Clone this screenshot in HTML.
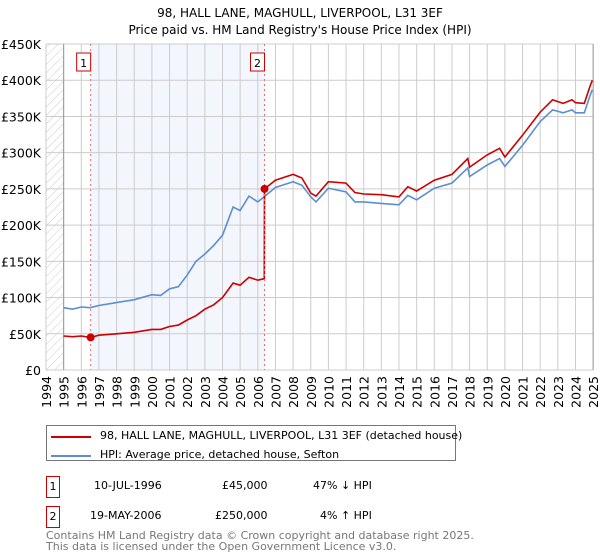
<!DOCTYPE html>
<html><head><meta charset="utf-8"><style>
body{margin:0;width:600px;height:560px;background:#fff;font-family:"DejaVu Sans","Liberation Sans",sans-serif;overflow:hidden;position:relative}
.t{position:absolute;font-size:11px;color:#000;white-space:nowrap}
</style></head><body>
<svg id="chart" width="600" height="420" style="position:absolute;left:0;top:0" font-family="DejaVu Sans, Liberation Sans, sans-serif">
<defs><pattern id="hatch" width="6" height="6" patternUnits="userSpaceOnUse" patternTransform="rotate(45)"><line x1="0" y1="0" x2="0" y2="6" stroke="#ccc" stroke-width="1"/></pattern></defs>
<text x="300" y="17" text-anchor="middle" font-size="12">98, HALL LANE, MAGHULL, LIVERPOOL, L31 3EF</text>
<text x="300" y="34" text-anchor="middle" font-size="12">Price paid vs. HM Land Registry's House Price Index (HPI)</text>
<g id="grid"></g><g id="marks"></g>
</svg>
<div class="t" style="left:46px;top:425px;width:408px;height:34px;border:1px solid #777"></div>
<div style="position:absolute;left:51px;top:436px;width:40px;height:2px;background:#cc0000"></div>
<div class="t" style="left:100px;top:429px">98, HALL LANE, MAGHULL, LIVERPOOL, L31 3EF (detached house)</div>
<div style="position:absolute;left:51px;top:455px;width:40px;height:2px;background:#5b8fd1"></div>
<div class="t" style="left:100px;top:448px">HPI: Average price, detached house, Sefton</div>
<div class="t" style="left:46px;top:476px;width:12px;height:20px;border:1px solid #cc0000;text-align:center;line-height:20px">1</div>
<div class="t" style="left:94px;top:479px">10-JUL-1996</div>
<div class="t" style="left:222px;top:479px">£45,000</div>
<div class="t" style="left:313px;top:479px">47% ↓ HPI</div>
<div class="t" style="left:46px;top:506px;width:12px;height:20px;border:1px solid #cc0000;text-align:center;line-height:20px">2</div>
<div class="t" style="left:90px;top:509px">19-MAY-2006</div>
<div class="t" style="left:215px;top:509px">£250,000</div>
<div class="t" style="left:320px;top:509px">4% ↑ HPI</div>
<div class="t" style="left:46px;top:530px;color:#777;line-height:11px">Contains HM Land Registry data © Crown copyright and database right 2025.<br>This data is licensed under the Open Government Licence v3.0.</div>
<script>
const yTicks=[0,50,100,150,200,250,300,350,400,450];
const yearTicks=[1994,1995,1996,1997,1998,1999,2000,2001,2002,2003,2004,2005,2006,2007,2008,2009,2010,2011,2012,2013,2014,2015,2016,2017,2018,2019,2020,2021,2022,2023,2024,2025];
const hpiYears=[1995,1995.5,1996,1996.5,1997,1998,1999,2000,2000.5,2001,2001.5,2002,2002.5,2003,2003.5,2004,2004.6,2005,2005.5,2006,2006.4,2007,2008,2008.5,2009,2009.3,2010,2011,2011.5,2012,2013,2014,2014.5,2015,2016,2017,2017.9,2018,2019,2019.7,2020,2021,2022,2022.7,2023.3,2023.8,2024,2024.5,2024.8,2024.95];
const hpiValues=[86,84,87,86,89,93,97,104,103,112,115,131,150,160,172,186,225,220,240,232,240,252,260,255,239,232,251,246,232,232,230,228,241,235,251,258,279,267,283,292,281,310,343,359,355,359,355,355,377,387];
const redYears=[1995,1995.5,1996,1996.53,1997,1998,1999,2000,2000.5,2001,2001.5,2002,2002.5,2003,2003.5,2004,2004.6,2005,2005.5,2006,2006.37,2006.38,2007,2008,2008.5,2009,2009.3,2010,2011,2011.5,2012,2013,2014,2014.5,2015,2016,2017,2017.9,2018,2019,2019.7,2020,2021,2022,2022.7,2023.3,2023.8,2024,2024.5,2024.8,2024.95];
const redValues=[47,46,47,45,48,50,52,56,56,60,62,69,75,84,90,100,120,117,128,124,126,250,262,270,265,244,240,260,258,245,243,242,239,253,247,262,270,292,280,297,306,294,324,356,373,368,373,369,368,390,400];
const saleYears=[1996.53,2006.38];
const saleValues=[45,250];
const saleLabels=["1","2"];
const ns="http://www.w3.org/2000/svg";
const X=y=>46+(y-1994)*17.65, Y=v=>370-v*0.7244;
const grid=document.getElementById('grid'), marks=document.getElementById('marks');
function mk(tag,attrs,parent){const e=document.createElementNS(ns,tag);for(const k in attrs)e.setAttribute(k,attrs[k]);parent.appendChild(e);return e;}
let r=mk('rect',{x:X(saleYears[0]),y:Y(450),width:X(saleYears[1])-X(saleYears[0]),height:Y(0)-Y(450),fill:'#f3f6fd'},grid);


r=mk('rect',{x:X(1994),y:Y(450),width:X(1995)-X(1994),height:Y(0)-Y(450),fill:'url(#hatch)'},grid);


yTicks.forEach(v=>{mk('line',{x1:X(1994),x2:X(2025),y1:Y(v),y2:Y(v),stroke:'#ccc'},grid);
 const t=mk('text',{x:41,y:Y(v)+5,'text-anchor':'end','font-size':'12.5'},grid);t.textContent=v===0?'£0':'£'+v+'K';
 
 });
yearTicks.forEach(yr=>{mk('line',{x1:X(yr),x2:X(yr),y1:Y(450),y2:Y(0),stroke:'#ccc'},grid);
 const t=mk('text',{x:0,y:0,'text-anchor':'end','font-size':'12.5',transform:`translate(${X(yr)+5},${376}) rotate(-90)`},grid);t.textContent=yr;
 
 });
mk('line',{x1:X(1995),x2:X(1995),y1:Y(450),y2:Y(0),stroke:'#999'},grid);
mk('line',{x1:X(2025),x2:X(2025),y1:Y(450),y2:Y(0),stroke:'#999'},grid);
function path(xs,vs,color,name){const p=mk('path',{d:xs.map((x,i)=>(i?'L':'M')+X(x).toFixed(1)+','+Y(vs[i]).toFixed(1)).join(''),fill:'none',stroke:color,'stroke-width':'1.6'},marks);
 
 }
path(hpiYears,hpiValues,'#5b8fd1','hpi-line');
path(redYears,redValues,'#cc0000','price-paid-line');
saleYears.forEach((yr,i)=>{mk('line',{x1:X(yr),x2:X(yr),y1:Y(450),y2:Y(0),stroke:'#e07070','stroke-dasharray':'2,3'},marks);
 const c=mk('circle',{cx:X(yr),cy:Y(saleValues[i]),r:4,fill:'#cc0000'},marks);
 
 
 const b=mk('rect',{x:X(yr)-14,y:53,width:14,height:18,fill:'#fff',stroke:'#cc0000'},marks);
 
 
 const t=mk('text',{x:X(yr)-7,y:67,'text-anchor':'middle','font-size':'11'},marks);t.textContent=saleLabels[i];
 
 });
</script>
</body></html>
